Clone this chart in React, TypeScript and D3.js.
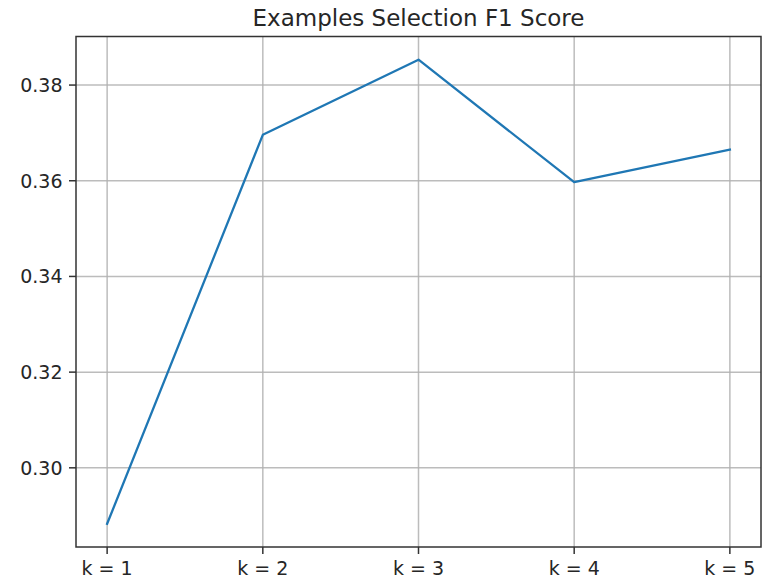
import React from "react";
import * as d3 from "d3";

const categories = ["k = 1", "k = 2", "k = 3", "k = 4", "k = 5"];
const f1Scores = [0.2883, 0.3696, 0.3853, 0.3597, 0.3665];
const yTicks = [0.3, 0.32, 0.34, 0.36, 0.38];
const title = "Examples Selection F1 Score";

const W = 765;
const H = 579;
const M = { left: 76, right: 4, top: 36.5, bottom: 32 };

export default function App() {
  const x = d3
    .scaleLinear()
    .domain([0.8, 5.2])
    .range([M.left, W - M.right]);
  const yMin = d3.min(f1Scores)!;
  const yMax = d3.max(f1Scores)!;
  const pad = (yMax - yMin) * 0.05;
  const y = d3
    .scaleLinear()
    .domain([yMin - pad, yMax + pad])
    .range([H - M.bottom, M.top]);

  const line = d3
    .line<number>()
    .x((_, i) => x(i + 1))
    .y((d) => y(d));

  const font = "'DejaVu Sans', sans-serif";
  const x0 = M.left;
  const x1 = W - M.right;
  const y0 = H - M.bottom;
  const y1 = M.top;

  return (
    <svg
      width={W}
      height={H}
      style={{ position: "absolute", left: 0, top: 0, background: "#fff" }}
      fontFamily={font}
    >
      <rect x={0} y={0} width={W} height={H} fill="#fff" />
      {/* grid */}
      {categories.map((c, i) => (
        <line
          key={"gx" + c}
          x1={x(i + 1)}
          x2={x(i + 1)}
          y1={y1}
          y2={y0}
          stroke="#b0b0b0"
          strokeWidth={1.5}
          strokeOpacity={0.85}
        />
      ))}
      {yTicks.map((t) => (
        <line
          key={"gy" + t}
          x1={x0}
          x2={x1}
          y1={y(t)}
          y2={y(t)}
          stroke="#b0b0b0"
          strokeWidth={1.5}
          strokeOpacity={0.85}
        />
      ))}
      {/* data line */}
      <path
        d={line(f1Scores) || ""}
        fill="none"
        stroke="#1f77b4"
        strokeWidth={2.3}
        strokeLinejoin="round"
        strokeLinecap="square"
      />
      {/* spines */}
      <rect
        x={x0}
        y={y1}
        width={x1 - x0}
        height={y0 - y1}
        fill="none"
        stroke="#333"
        strokeWidth={1.5}
      />
      {/* y ticks */}
      {yTicks.map((t) => (
        <g key={"ty" + t}>
          <line x1={x0 - 7} x2={x0} y1={y(t)} y2={y(t)} stroke="#333" strokeWidth={1.5} />
          <text
            x={x0 - 13.5}
            y={y(t)}
            dy="0.36em"
            textAnchor="end"
            fontSize={19}
            fill="#262626"
          >
            {d3.format(".2f")(t)}
          </text>
        </g>
      ))}
      {/* x ticks */}
      {categories.map((c, i) => (
        <g key={"tx" + c}>
          <line x1={x(i + 1)} x2={x(i + 1)} y1={y0} y2={y0 + 7} stroke="#333" strokeWidth={1.5} />
          <text
            x={x(i + 1)}
            y={575}
            textAnchor="middle"
            fontSize={19}
            fill="#262626"
          >
            {c}
          </text>
        </g>
      ))}
      <text
        x={(x0 + x1) / 2}
        y={26}
        textAnchor="middle"
        fontSize={23}
        fill="#262626"
      >
        {title}
      </text>
    </svg>
  );
}
